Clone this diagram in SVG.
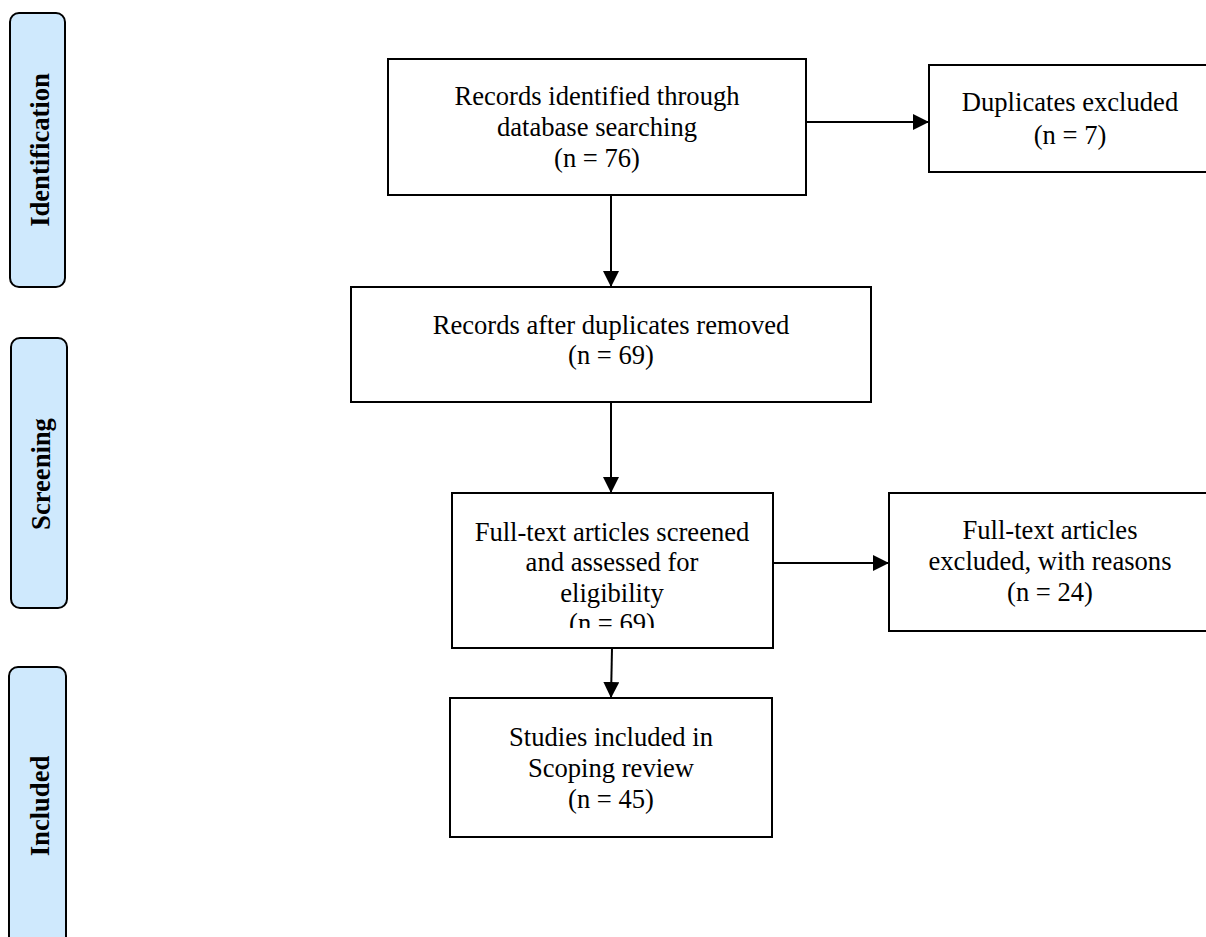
<svg xmlns="http://www.w3.org/2000/svg" width="1206" height="937" viewBox="0 0 1206 937">
<style>
.box{fill:#fff;stroke:#000;stroke-width:2}
.side{fill:#cfe9fd;stroke:#000;stroke-width:2}
.t{font-family:"Liberation Serif","Times New Roman",serif;font-size:26.6px;fill:#000;text-anchor:middle}
.s{font-family:"Liberation Serif","Times New Roman",serif;font-size:26.6px;font-weight:bold;fill:#000;text-anchor:middle}
.c{stroke:#000;stroke-width:2;fill:none}
</style>
<defs>
<marker id="ah" markerWidth="16" markerHeight="16" refX="16" refY="8" orient="auto" markerUnits="userSpaceOnUse"><path d="M0,0 L16,8 L0,16 Z" fill="#000"/></marker>
<clipPath id="clipFT"><rect x="452" y="493" width="321" height="135"/></clipPath>
</defs>
<rect width="1206" height="937" fill="#fff"/>
<g id="side-identification"><rect class="side" x="10" y="13" width="55" height="274" rx="9"/><text class="s" transform="translate(49,150) rotate(-90)">Identification</text></g>
<g id="side-screening"><rect class="side" x="11" y="338" width="56" height="270" rx="9"/><text class="s" transform="translate(50,474) rotate(-90)">Screening</text></g>
<g id="side-included"><rect class="side" x="9" y="667" width="57" height="290" rx="9"/><text class="s" transform="translate(49,806) rotate(-90)">Included</text></g>
<g id="connectors">
<line class="c" x1="806" y1="122" x2="929" y2="122" marker-end="url(#ah)"/>
<line class="c" x1="611" y1="195" x2="611" y2="287" marker-end="url(#ah)"/>
<line class="c" x1="611" y1="402" x2="611" y2="493" marker-end="url(#ah)"/>
<line class="c" x1="773" y1="563" x2="889" y2="563" marker-end="url(#ah)"/>
<line class="c" x1="612" y1="648" x2="611" y2="698" marker-end="url(#ah)"/>
</g>
<g id="records-identified"><rect class="box" x="388" y="59" width="418" height="136"/><text class="t" x="597" y="105">Records identified through</text><text class="t" x="597" y="136">database searching</text><text class="t" x="597" y="167">(n = 76)</text></g>
<g id="duplicates-excluded"><rect class="box" x="929" y="65" width="282" height="107"/><text class="t" x="1070" y="111">Duplicates excluded</text><text class="t" x="1070" y="144">(n = 7)</text></g>
<g id="records-after"><rect class="box" x="351" y="287" width="520" height="115"/><text class="t" x="611" y="334">Records after duplicates removed</text><text class="t" x="611" y="364">(n = 69)</text></g>
<g id="fulltext-screened"><rect class="box" x="452" y="493" width="321" height="155"/><g clip-path="url(#clipFT)"><text class="t" x="612" y="541">Full-text articles screened</text><text class="t" x="612" y="571">and assessed for</text><text class="t" x="612" y="602">eligibility</text><text class="t" x="612" y="632">(n = 69)</text></g></g>
<g id="fulltext-excluded"><rect class="box" x="889" y="493" width="322" height="138"/><text class="t" x="1050" y="539">Full-text articles</text><text class="t" x="1050" y="570">excluded, with reasons</text><text class="t" x="1050" y="601">(n = 24)</text></g>
<g id="studies-included"><rect class="box" x="450" y="698" width="322" height="139"/><text class="t" x="611" y="746">Studies included in</text><text class="t" x="611" y="777">Scoping review</text><text class="t" x="611" y="808">(n = 45)</text></g>
</svg>
